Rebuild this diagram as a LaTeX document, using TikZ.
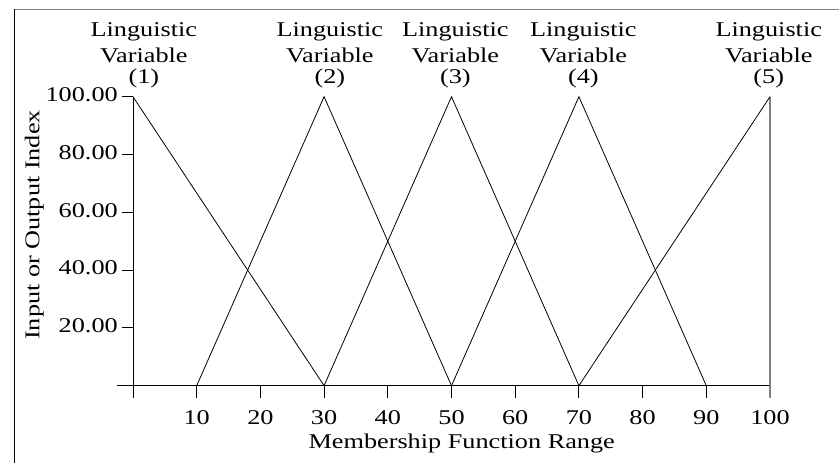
\documentclass[tikz,border=0pt]{standalone}
\usepackage{fontspec}
\setmainfont[FakeStretch=1.25]{Liberation Serif}

\begin{document}
\begin{tikzpicture}[x=6.37pt,y=2.89pt,
  lbl/.style={font=\fontsize{21}{26}\selectfont, inner sep=0},
  tri/.style={line width=0.8pt},
  axis/.style={line width=0.9pt}]
\useasboundingbox (-133pt,-77.3pt) rectangle (706pt,385.7pt);
%\draw (0,0) grid (100,100);

% frame
\draw[gray, line width=1.6pt] (-119pt,376.2pt) -- (706pt,376.2pt);
\draw[line width=0.9pt] (-119pt,376.2pt) -- (-119pt,-77.3pt);

\foreach \v in {0,10,...,100} {
  \coordinate (b\v) at (\v,0);
  \coordinate (t\v) at (\v,100);
}

% axes
\draw[axis] (-2.56,0) -- (b100);
\draw[axis] (t0) -- (0,-4.26);
\foreach \v in {10,20,...,90}
  \draw[axis] (b\v) -- ++(0,-4.26) node[lbl, below=12pt] (xl\v) {\v};
\foreach \v in {20,40,60,80,100}
  \draw[axis] (0,\v) -- ++(-1.77,0) node[lbl, left=3.5pt, yshift=2pt] (yl\v) {\v.00};
\draw[gray, line width=1.3pt] (t100) -- (100,-4.26) node[lbl, below=12pt, black] (xl100) {100};

\node[lbl] (xtitle) [anchor=base] at (51.6,-21.56) {Membership Function Range};
\node[lbl, rotate=90] (ytitle) [anchor=base] at (-14.68,55.6) {Input or Output Index};

% membership functions
\draw[tri] (t0) -- (b30);
\draw[tri] (b10) -- (t30) -- (b50);
\draw[tri] (b30) -- (t50) -- (b70);
\draw[tri] (b50) -- (t70) -- (b90);
\draw[tri] (b70) -- (t100);

\node[lbl, align=center, anchor=south] (lv1) at (1.7,102.8) {Linguistic\\Variable\\[-5pt](1)};
\node[lbl, align=center, anchor=south] (lv2) at (30.9,102.8) {Linguistic\\Variable\\[-5pt](2)};
\node[lbl, align=center, anchor=south] (lv3) at (50.6,102.8) {Linguistic\\Variable\\[-5pt](3)};
\node[lbl, align=center, anchor=south] (lv4) at (70.7,102.8) {Linguistic\\Variable\\[-5pt](4)};
\node[lbl, align=center, anchor=south] (lv5) at (99.8,102.8) {Linguistic\\Variable\\[-5pt](5)};

\end{tikzpicture}
\end{document}
